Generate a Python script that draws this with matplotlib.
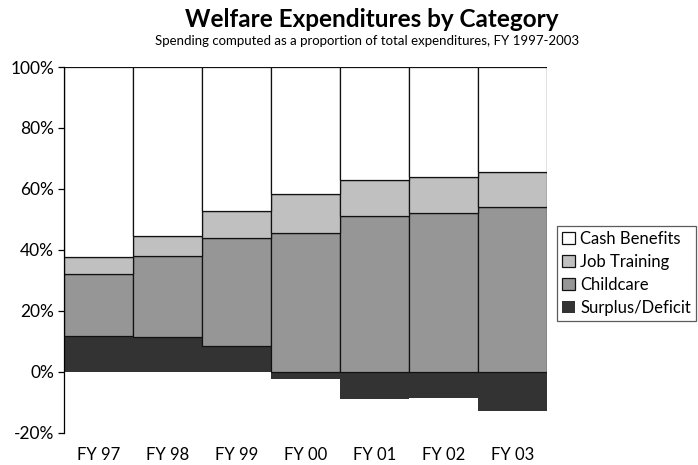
import numpy as np
import matplotlib.pyplot as plt

plt.rcParams['font.family'] = ['Lato', 'DejaVu Sans']

# Spending shares (% of total expenditures)
years = ["FY 97", "FY 98", "FY 99", "FY 00", "FY 01", "FY 02", "FY 03"]
surplus = [11.7, 11.3, 8.4, -2.5, -9.1, -8.5, -12.8]
childcare = [20.4, 26.8, 35.5, 45.6, 51.2, 52.1, 54.2]
job_training = [5.5, 6.3, 8.9, 12.7, 11.6, 11.8, 11.4]
cash_benefits = [62.4, 55.6, 47.2, 41.7, 37.2, 36.1, 34.4]

series = [
    ("Surplus/Deficit", surplus, "#333333"),
    ("Childcare", childcare, "#969696"),
    ("Job Training", job_training, "#c0c0c0"),
    ("Cash Benefits", cash_benefits, "#ffffff"),
]

fig = plt.figure(figsize=(6.98, 4.65), dpi=100)
ax = fig.add_axes([64 / 698, 1 - 432.7 / 465, (547 - 64) / 698, (432.7 - 67) / 465])

# positive parts stack upward from 0, negative parts downward
x = np.arange(len(years))
pos_base = np.zeros(len(years))
neg_base = np.zeros(len(years))
handles = []
for name, vals, color in series:
    vals = np.array(vals, dtype=float)
    bottom = np.where(vals >= 0, pos_base, neg_base)
    if name == "Surplus/Deficit":
        ec, lw = color, 0
    else:
        ec, lw = "#111111", 0.9
    bars = ax.bar(x, vals, width=1.0, bottom=bottom, color=color,
                  edgecolor=ec, linewidth=lw, label=name)
    handles.append(bars)
    pos_base += np.where(vals >= 0, vals, 0)
    neg_base += np.where(vals < 0, vals, 0)

ax.set_xlim(-0.5, len(years) - 0.5)
ax.set_ylim(-20, 100)
ax.set_yticks(np.arange(-20, 101, 20))
ax.set_yticklabels([f"{v}%" for v in range(-20, 101, 20)], fontsize=12.5)
ax.set_xticks(x)
ax.set_xticklabels(years, fontsize=12)
ax.tick_params(axis='x', length=0, pad=10)
ax.tick_params(axis='y', length=4, width=0.9, direction='out', pad=3)

for side in ("top", "right", "bottom"):
    ax.spines[side].set_visible(False)
ax.spines["left"].set_linewidth(0.9)

leg = ax.legend(handles[::-1], [s[0] for s in series][::-1],
                loc="upper left", bbox_to_anchor=(557 / 698, 1 - 225.7 / 465),
                bbox_transform=fig.transFigure, fontsize=12,
                frameon=True, fancybox=False, handlelength=0.8, handleheight=0.8,
                handletextpad=0.3, labelspacing=0.42, borderpad=0.3,
                borderaxespad=0)
leg.get_frame().set_edgecolor("#333333")
leg.get_frame().set_linewidth(0.9)

fig.text(0.532, 0.958, "Welfare Expenditures by Category", ha="center", va="center",
         fontsize=17.5, fontweight="bold")
fig.text(0.526, 0.912, "Spending computed as a proportion of total expenditures, FY 1997-2003",
         ha="center", va="center", fontsize=9.5)

fig.savefig("out.png", dpi=100)
